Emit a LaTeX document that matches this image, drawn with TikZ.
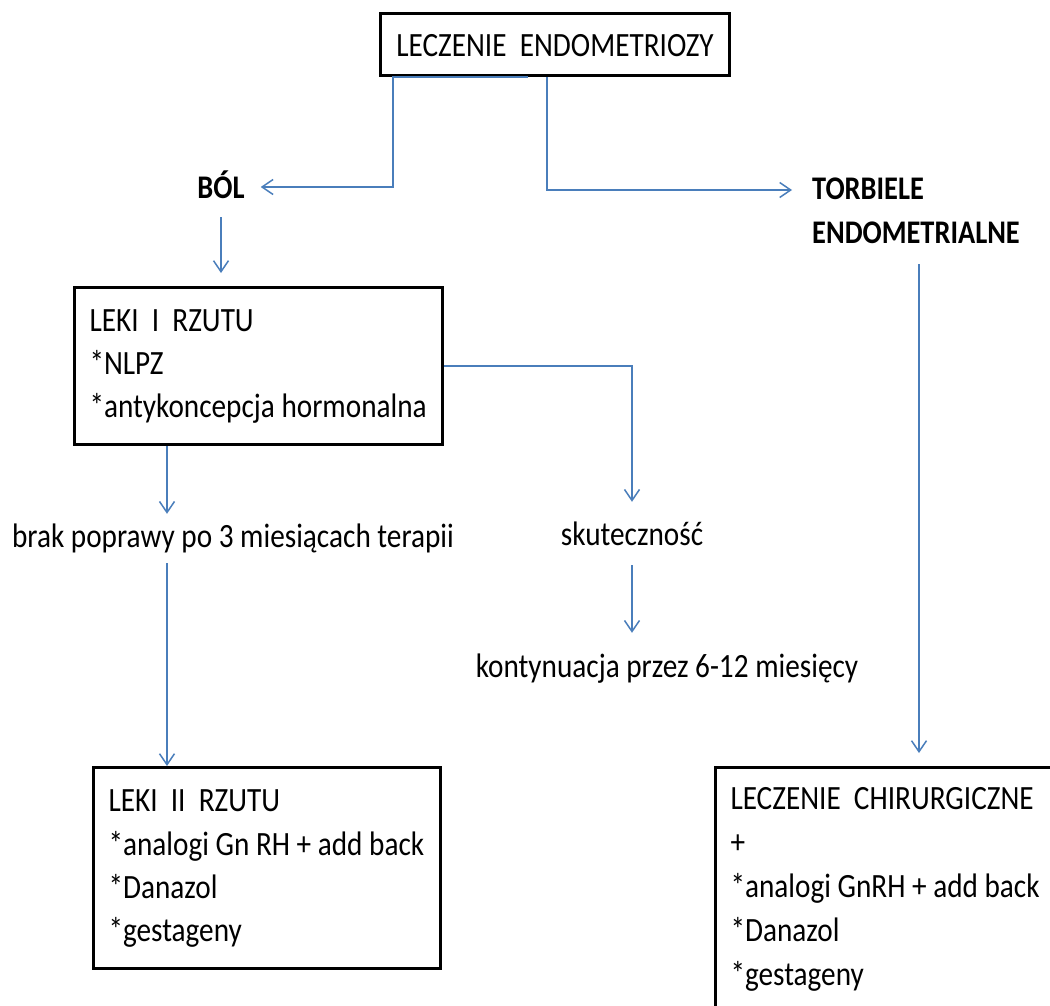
\documentclass[tikz,border=0pt]{standalone}
\usepackage{fontspec}
\setmainfont{Carlito}[FakeStretch=0.86]
\usetikzlibrary{arrows.meta,calc}
\definecolor{lineblue}{HTML}{4A7EBB}
\newcommand{\boxline}[2]{\makebox[#1][l]{\strut #2}}
\begin{document}
\begin{tikzpicture}[x=1pt,y=-1pt,
  box/.style={draw=black, line width=3pt, anchor=north west, inner xsep=15pt, inner ysep=0pt, align=left},
  topbox/.style={draw=black, line width=3pt, anchor=north west, inner sep=0pt, text height=24pt, text depth=0pt, font=\fontsize{34}{43.3}\selectfont},
  txt/.style={inner sep=0pt, font=\fontsize{34}{43.3}\selectfont},
  boldtxt/.style={inner sep=0pt, font=\fontsize{33}{44}\selectfont\bfseries},
  conn/.style={draw=lineblue, line width=1.5pt},
  arr/.style={conn, -{Straight Barb[length=11pt,width=15pt]}}]
\useasboundingbox (0,0) rectangle (1050,1006);
\clip (0,0) rectangle (1050,1006);
\fill[white] (0,0) rectangle (1050,1006);

\coordinate (xA) at (393,0);
\coordinate (xB) at (528,0);
\coordinate (xC) at (547,0);
\coordinate (xL) at (167,0);
\coordinate (xR) at (919,0);

\node[topbox, minimum width=349pt, minimum height=62pt] (top) at (379,12) {LECZENIE\ \ ENDOMETRIOZY};

\node[boldtxt, anchor=base, text height=41pt, text depth=19pt, inner xsep=16pt] (bol) at (221,198) {BÓL};
\node[boldtxt, anchor=north west, align=left] (torb) at (812,178) {TORBIELE\\ENDOMETRIALNE};

\node[box, font=\fontsize{34}{43.3}\selectfont, minimum height=157pt] (b1) at (73,286)
  {\boxline{338pt}{LEKI\ \ I\ \ RZUTU}\\\boxline{338pt}{*NLPZ}\\\boxline{338pt}{*antykoncepcja hormonalna}};

\node[txt, anchor=base, text height=33pt, text depth=16pt] (brak) at (233,547) {brak poprawy po 3 miesiącach terapii};
\node[txt, anchor=base, text height=43pt, text depth=20pt] (sk) at (632,545) {skuteczność};
\node[txt, anchor=base, text height=44pt, text depth=10pt] (kont) at (667,677) {kontynuacja przez 6-12 miesięcy};

\node[box, font=\fontsize{34}{43.3}\selectfont, minimum height=201pt] (b2) at (92,766)
  {\boxline{317pt}{LEKI\ \ II\ \ RZUTU}\\\boxline{317pt}{*analogi Gn RH + add back}\\\boxline{317pt}{*Danazol}\\\boxline{317pt}{*gestageny}};

\node[box, font=\fontsize{34}{44}\selectfont, minimum height=242pt] (b3) at (714,766)
  {\boxline{330pt}{LECZENIE\ \ CHIRURGICZNE}\\\boxline{330pt}{+}\\\boxline{330pt}{*analogi GnRH + add back}\\\boxline{330pt}{*Danazol}\\\boxline{330pt}{*gestageny}};

\draw[arr] (top.south -| xB) -- (top.south -| xA) |- (bol.east);
\draw[arr] (top.south -| xC) |- ($(torb.north west)+(-20,12)$);
\draw[arr] (bol.south) -- ($(b1.north -| bol.south)+(0,-13)$);
\draw[arr] (b1.east) -| (sk.north);
\draw[arr] (sk.south) -- (kont.north -| sk.south);
\draw[arr] (b1.south -| xL) -- (brak.north -| xL);
\draw[arr] (brak.south -| xL) -- (b2.north -| xL);
\draw[arr] ($(torb.south -| xR)+(0,20)$) -- ($(b3.north -| xR)+(0,-13)$);
\end{tikzpicture}
\end{document}
